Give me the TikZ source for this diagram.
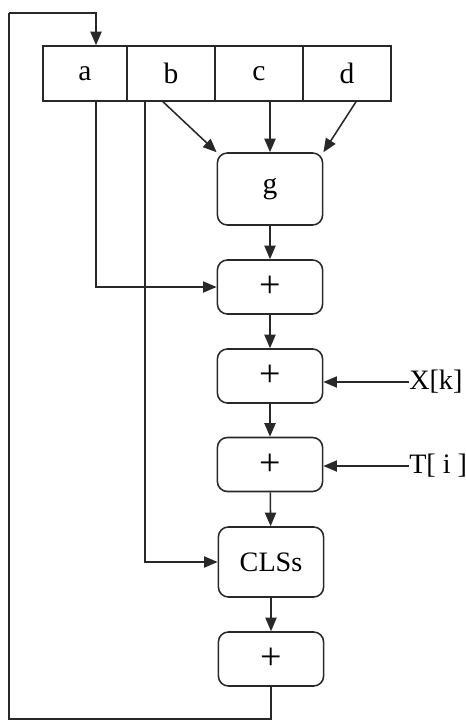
\documentclass[tikz,border=0pt]{standalone}
\usepackage{fontspec}
\setmainfont{Liberation Serif}
\usepackage{tikz}
\usetikzlibrary{arrows.meta,positioning,calc}
\definecolor{lineink}{RGB}{40,40,40}

\tikzset{
  cell/.style={draw=lineink, line width=1.1pt, minimum width=2.2cm, minimum height=1.375cm, inner sep=0pt, font=\fontsize{21}{23}\selectfont},
  block/.style={draw=lineink, line width=1.1pt, rounded corners=0.25cm, minimum width=2.63cm, minimum height=1.35cm, inner sep=0pt, font=\fontsize{27}{29}\selectfont},
  flow/.style={draw=lineink, line width=1.1pt, -{Triangle[length=3.4mm,width=2.8mm]}},
  feed/.style={draw=lineink, line width=1.1pt},
  inlabel/.style={anchor=west, inner sep=0pt, font=\fontsize{20}{22}\selectfont}
}

\begin{document}
\begin{tikzpicture}[x=0.025cm,y=-0.025cm]
  \useasboundingbox (0,0) rectangle (466,722);

  % Register
  \node[cell, minimum width=2.1cm] (a) at (85,73.5) {a};
  \node[cell] (b) at (171,73.5) {b};
  \node[cell] (c) at (259,73.5) {c};
  \node[cell] (d) at (347,73.5) {d};

  % Blocks
  \node[block, minimum height=1.8cm, font=\fontsize{21}{23}\selectfont] (g) at (270,189) {g};
  \node[block] (p1) at (270,287) {+};
  \node[block] (p2) at (270,376) {+};
  \node[block] (p3) at (270,464.5) {+};
  \node[block, minimum height=1.75cm, font=\fontsize{20}{22}\selectfont] (cls) at (271,562) {CLSs};
  \node[block] (p4) at (271,659) {+};

  % Inputs
  \node[inlabel] (xk) at (409,382) {X[k]};
  \node[inlabel] (ti) at (409,466) {T[ i ]};

  % Register to g
  \draw[flow] ([xshift=-0.2cm]b.south) -- (g.north west);
  \draw[flow] (c.south -| g.north) -- (g.north);
  \draw[flow] ([xshift=0.225cm]d.south) -- (g.north east);

  % Chain
  \draw[flow] (g) -- (p1);
  \draw[flow] (p1) -- (p2);
  \draw[flow] (p2) -- (p3);
  \draw[flow] (p3) -- (cls);
  \draw[flow] (cls) -- (p4);

  % Side inputs
  \draw[flow] ([xshift=0.275cm]a.south) |- (p1.west);
  \draw[flow] ([xshift=-0.65cm]b.south) |- (cls.west);
  \draw[flow] (xk.west) -- (xk.west -| p2.east);
  \draw[flow] (ti.west) -- (ti.west -| p3.east);

  % Feedback
  \coordinate (fbot) at (9,719);
  \coordinate (ftop) at (9,13);
  \draw[feed] (p4.south) |- (fbot) -- (ftop);
  \draw[flow] (ftop) -| ([xshift=0.275cm]a.north);
\end{tikzpicture}
\end{document}
